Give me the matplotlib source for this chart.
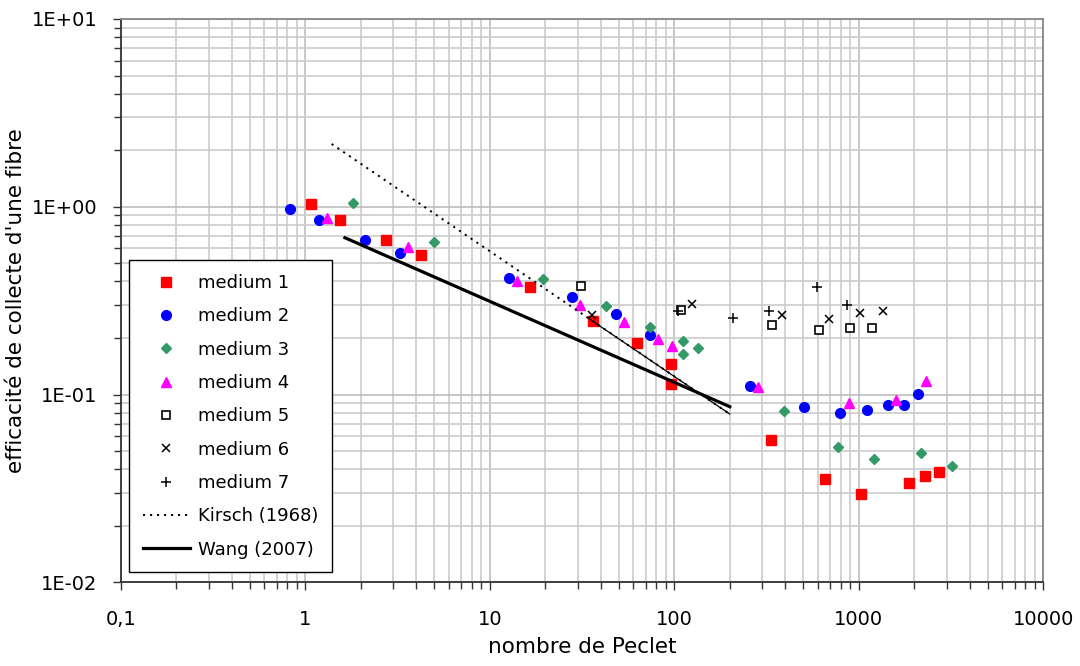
import matplotlib
matplotlib.use("Agg")
import matplotlib.pyplot as plt
from matplotlib.ticker import FixedLocator, LogLocator, NullFormatter

# --- data (Peclet number, single fibre efficiency) ---
m1_pe = [1.075, 1.54, 2.74, 4.26, 16.5, 36.4, 63.1, 95.7, 95.7, 333, 659, 1033, 1866, 2296, 2735]
m1_eff = [1.034, 0.850, 0.662, 0.551, 0.374, 0.247, 0.189, 0.145, 0.114, 0.0572, 0.0354, 0.0294, 0.0339, 0.0367, 0.0385]

m2_pe = [0.827, 1.19, 2.10, 3.27, 12.7, 28.0, 48.6, 73.9, 258, 507, 795, 1109, 1436, 1767, 2104]
m2_eff = [0.972, 0.846, 0.662, 0.569, 0.419, 0.329, 0.268, 0.207, 0.1106, 0.0858, 0.0797, 0.0830, 0.0879, 0.0882, 0.1002]

m3_pe = [1.81, 4.99, 19.5, 42.7, 73.9, 112, 112, 134.6, 392, 772, 1211, 2176, 3215]
m3_eff = [1.046, 0.649, 0.414, 0.295, 0.228, 0.193, 0.164, 0.176, 0.0814, 0.0523, 0.0453, 0.0486, 0.0418]

m4_pe = [1.31, 3.62, 14.1, 31.0, 53.6, 81.7, 97.3, 286, 883, 1587, 2324]
m4_eff = [0.868, 0.608, 0.402, 0.301, 0.244, 0.1975, 0.182, 0.1092, 0.0898, 0.0938, 0.1176]

m5_pe = [31.3, 109.3, 338, 609, 894, 1185]
m5_eff = [0.380, 0.282, 0.2345, 0.2206, 0.2252, 0.2268]

m6_pe = [35.7, 124.4, 384, 693, 1020, 1349]
m6_eff = [0.265, 0.303, 0.265, 0.252, 0.2726, 0.2773]

m7_pe = [104.9, 209, 327.6, 592, 867]
m7_eff = [0.2773, 0.2564, 0.2794, 0.375, 0.2996]

kirsch_pe = [1.39, 200]
kirsch_eff = [2.16, 0.0787]
kirsch_thin_pe = [35.0, 200]
kirsch_thin_eff = [0.251, 0.0787]

wang_pe = [1.64, 200]
wang_eff = [0.684, 0.0861]

xticks = [0.1, 1, 10, 100, 1000, 10000]
xlabels = ["0,1", "1", "10", "100", "1000", "10000"]
yticks = [0.01, 0.1, 1, 10]
ylabels = ["1E-02", "1E-01", "1E+00", "1E+01"]

plt.rcParams['font.family'] = ['DejaVu Sans']

fig = plt.figure(figsize=(10.8, 6.66), dpi=100)
ax = fig.add_axes([0.1118, 0.1257, 0.966 - 0.1118, 0.9715 - 0.1257])
ax.set_xscale("log")
ax.set_yscale("log")
ax.set_xlim(0.1, 10000)
ax.set_ylim(0.01, 10)

ax.plot(m1_pe, m1_eff, ls="none", marker="s", ms=6.5, mfc="#ff0000", mec="#ff0000", label="medium 1", zorder=3)
ax.plot(m2_pe, m2_eff, ls="none", marker="o", ms=7, mfc="#0000ff", mec="#0000ff", label="medium 2", zorder=3)
ax.plot(m3_pe, m3_eff, ls="none", marker="D", ms=5, mfc="#339966", mec="#339966", label="medium 3", zorder=3)
ax.plot(m4_pe, m4_eff, ls="none", marker="^", ms=7.5, mfc="#ff00ff", mec="#ff00ff", label="medium 4", zorder=3)
ax.plot(m5_pe, m5_eff, ls="none", marker="s", ms=5.5, mfc="white", mec="black", mew=1.2, label="medium 5", zorder=3)
ax.plot(m6_pe, m6_eff, ls="none", marker="x", ms=6, mec="black", mew=1.1, label="medium 6", zorder=3)
ax.plot(m7_pe, m7_eff, ls="none", marker="+", ms=6.5, mec="black", mew=1.1, label="medium 7", zorder=3)

ax.plot(kirsch_pe, kirsch_eff, color="black", lw=1.4, ls=(0, (1.1, 2.5)), label="Kirsch (1968)", zorder=4)
ax.plot(kirsch_thin_pe, kirsch_thin_eff, color="black", lw=0.9, zorder=4)
ax.plot(wang_pe, wang_eff, color="black", lw=2.3, label="Wang (2007)", zorder=4)

# axes, ticks, grid
ax.xaxis.set_major_locator(FixedLocator(xticks))
ax.set_xticklabels(xlabels)
ax.yaxis.set_major_locator(FixedLocator(yticks))
ax.set_yticklabels(ylabels)
ax.xaxis.set_minor_locator(LogLocator(base=10, subs=range(2, 10)))
ax.yaxis.set_minor_locator(LogLocator(base=10, subs=range(2, 10)))
ax.xaxis.set_minor_formatter(NullFormatter())
ax.yaxis.set_minor_formatter(NullFormatter())

ax.tick_params(axis="x", which="major", direction="out", length=6, width=1, labelsize=14, pad=14, colors="#333333", labelcolor="black")
ax.tick_params(axis="y", which="major", direction="out", length=6, width=1, labelsize=14, pad=11, colors="#333333", labelcolor="black")
ax.tick_params(which="minor", direction="out", length=5, width=1, colors="#333333")

ax.grid(True, which="major", color="#bdbdbd", lw=1.2)
ax.grid(True, which="minor", color="#cccccc", lw=1.2)
ax.set_axisbelow(True)

for side in ["left", "bottom"]:
    ax.spines[side].set_color("#333333")
    ax.spines[side].set_linewidth(1.3)
for side in ["top", "right"]:
    ax.spines[side].set_color("#888888")
    ax.spines[side].set_linewidth(1.3)

ax.set_xlabel("nombre de Peclet", fontsize=15.5, labelpad=6)
ax.set_ylabel("efficacité de collecte d'une fibre", fontsize=15.5, labelpad=4)

leg = ax.legend(loc="lower left", bbox_to_anchor=(0.009, 0.018), fontsize=13, frameon=True,
                fancybox=False, edgecolor="black", framealpha=1, handlelength=2.6,
                handletextpad=0.45, labelspacing=0.85, borderpad=0.75, borderaxespad=0)
leg.get_frame().set_linewidth(1.0)

fig.savefig("out.png", dpi=100)
